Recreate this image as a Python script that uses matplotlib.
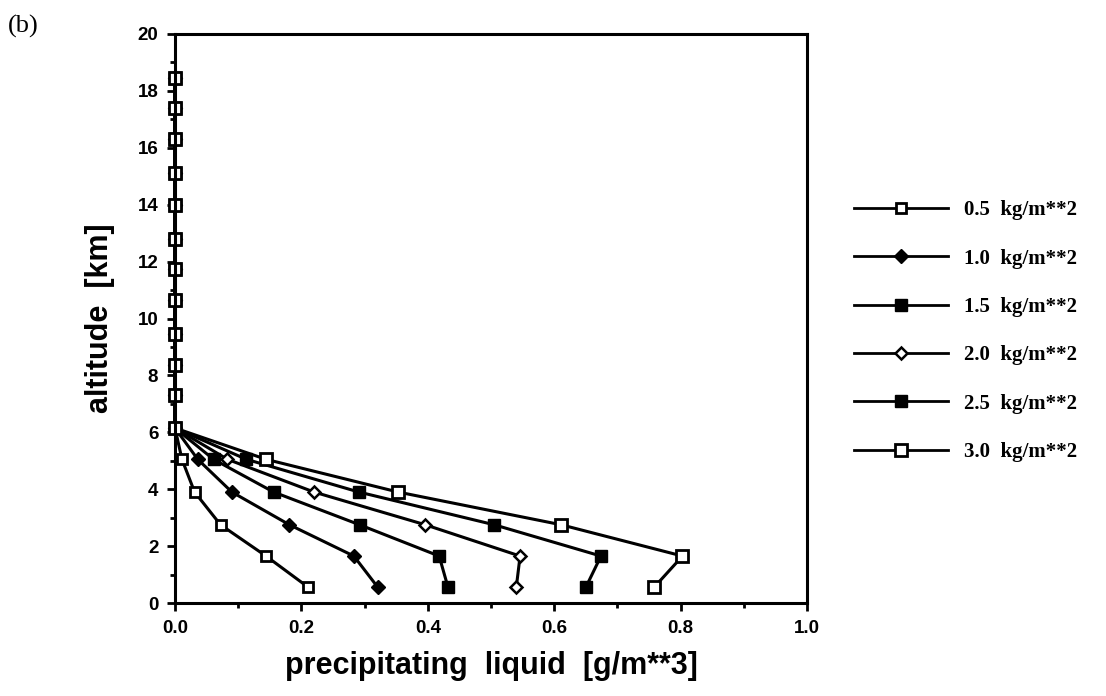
import numpy as np
import matplotlib.pyplot as plt
from matplotlib.ticker import MultipleLocator, FormatStrFormatter

# altitude levels [km]
altitude = [0.55, 1.65, 2.75, 3.9, 5.05, 6.15, 7.3, 8.35, 9.45, 10.65,
            11.75, 12.8, 14.0, 15.1, 16.3, 17.4, 18.45]

# precipitating liquid [g/m**3] for each column amount (zero above 6 km)
upper = [0.0] * 12
liq_05 = [0.211, 0.144, 0.072, 0.031, 0.011] + upper
liq_10 = [0.321, 0.283, 0.181, 0.090, 0.036] + upper
liq_15 = [0.432, 0.418, 0.292, 0.156, 0.061] + upper
liq_20 = [0.540, 0.546, 0.396, 0.220, 0.083] + upper
liq_25 = [0.650, 0.674, 0.505, 0.291, 0.113] + upper
liq_30 = [0.758, 0.803, 0.611, 0.353, 0.144] + upper

labels = ["0.5  kg/m**2", "1.0  kg/m**2", "1.5  kg/m**2",
          "2.0  kg/m**2", "2.5  kg/m**2", "3.0  kg/m**2"]

sans = ["Liberation Sans", "DejaVu Sans"]
serif = ["Liberation Serif", "DejaVu Serif"]

fig = plt.figure(figsize=(11.06, 6.96), dpi=100)
ax = fig.add_axes([175 / 1106, 1 - 603 / 696, 632 / 1106, 569 / 696])

styles = [
    dict(marker="s", ms=7, mfc="white", mew=2.0),
    dict(marker="D", ms=7.5, mfc="black", mew=1.0),
    dict(marker="s", ms=8.5, mfc="black", mew=1.0),
    dict(marker="D", ms=6.5, mfc="white", mew=1.8),
    dict(marker="s", ms=9, mfc="black", mew=1.0),
    dict(marker="s", ms=8, mfc="white", mew=2.0),
]
series = [liq_05, liq_10, liq_15, liq_20, liq_25, liq_30]

for vals, lab, st in zip(series, labels, styles):
    ax.plot(vals, altitude, color="black", lw=2.2, mec="black",
            label=lab, clip_on=False, **st)

ax.set_xlim(0, 1.0)
ax.set_ylim(0, 20)
ax.xaxis.set_major_locator(MultipleLocator(0.2))
ax.xaxis.set_minor_locator(MultipleLocator(0.1))
ax.xaxis.set_major_formatter(FormatStrFormatter("%.1f"))
ax.yaxis.set_major_locator(MultipleLocator(2))
ax.yaxis.set_minor_locator(MultipleLocator(1))

for s in ax.spines.values():
    s.set_linewidth(2.2)
ax.tick_params(which="major", direction="out", length=6, width=2, pad=6)
ax.tick_params(which="minor", direction="out", length=3.5, width=2)
for t in ax.get_xticklabels() + ax.get_yticklabels():
    t.set_fontfamily(sans)
    t.set_fontweight("bold")
    t.set_fontsize(13.5)

ax.set_xlabel("precipitating  liquid  [g/m**3]", family=sans,
              fontweight="bold", fontsize=22, labelpad=10)
ax.set_ylabel("altitude  [km]", family=sans,
              fontweight="bold", fontsize=22, labelpad=16)

fig.text(8 / 1106, 1 - 26 / 696, "(b)", family=serif, fontsize=19,
         va="center", ha="left")

leg = fig.legend(loc="upper left", bbox_to_anchor=(846 / 1106, 1 - 192 / 696),
                 frameon=False, handlelength=4.5, handletextpad=0.75,
                 labelspacing=1.36, borderaxespad=0,
                 prop=dict(family=serif, weight="bold", size=15))
for h in leg.legend_handles:
    h.set_linewidth(2.0)

fig.savefig("out.png", dpi=100)
